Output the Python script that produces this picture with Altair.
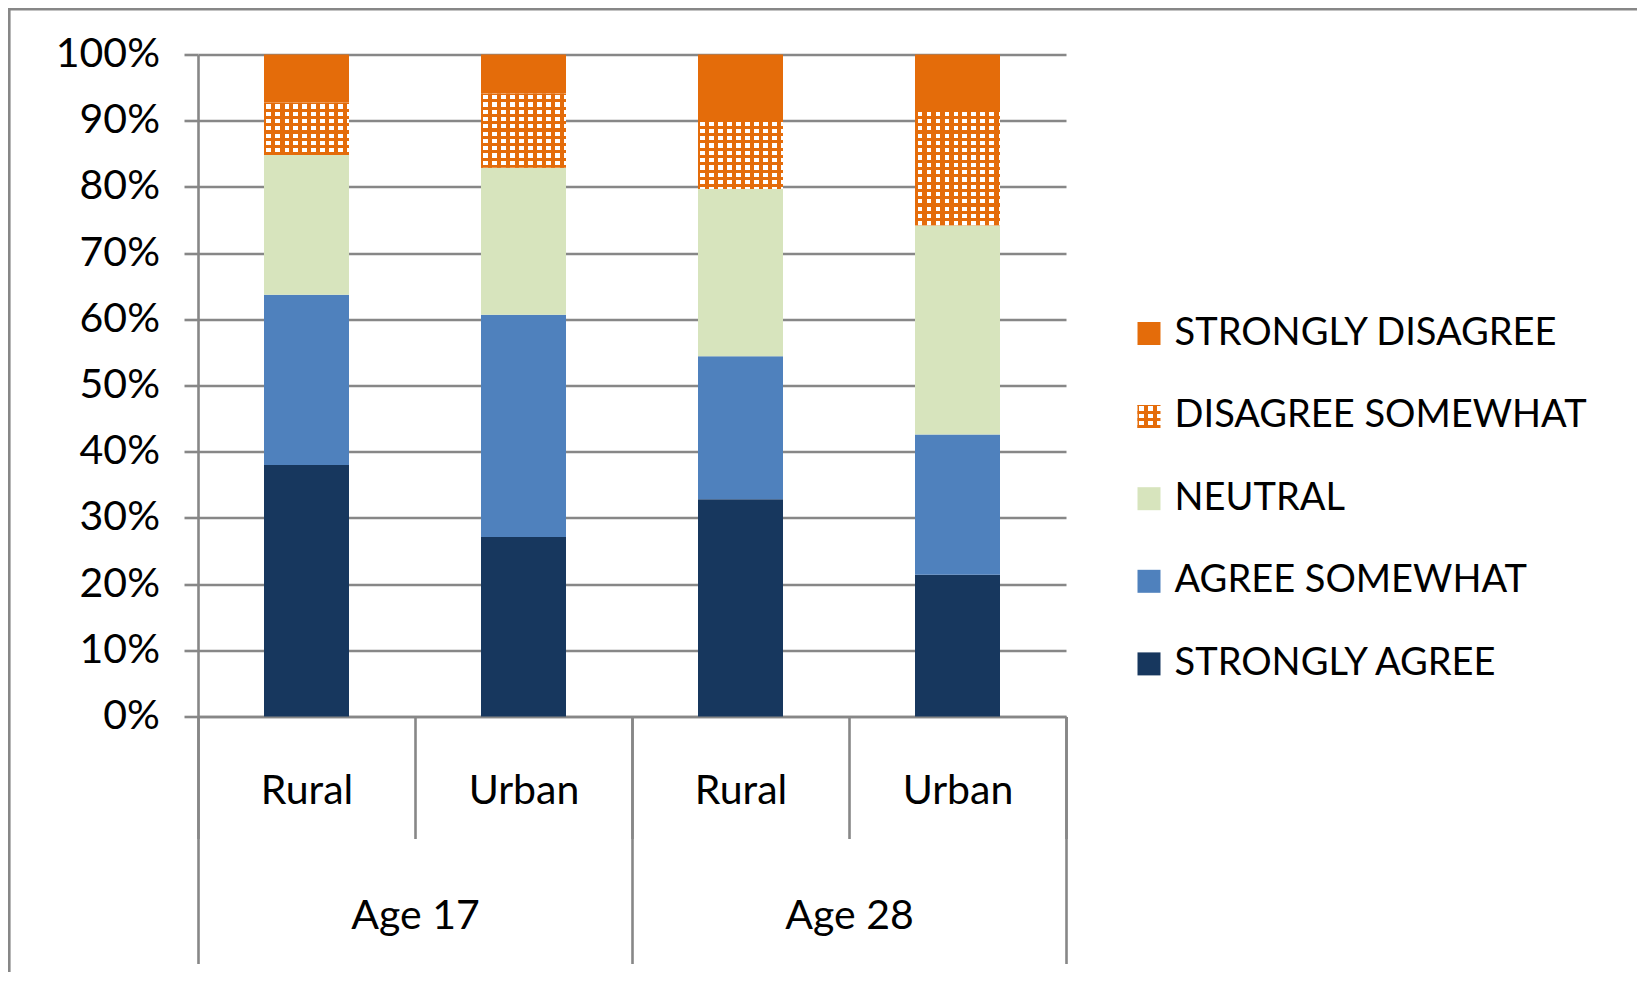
import altair as alt
import pandas as pd

# ---------------- data ----------------
groups = ["Age 17", "Age 17", "Age 28", "Age 28"]
areas = ["Rural", "Urban", "Rural", "Urban"]
categories = ["STRONGLY DISAGREE", "DISAGREE SOMEWHAT", "NEUTRAL", "AGREE SOMEWHAT", "STRONGLY AGREE"]
strongly_agree = [38.0, 27.1, 32.8, 21.4]
agree_somewhat = [25.7, 33.6, 21.6, 21.2]
neutral = [21.1, 22.2, 25.3, 31.6]
disagree_somewhat = [7.9, 11.2, 10.4, 17.4]
strongly_disagree = [7.3, 5.9, 9.9, 8.4]
y_ticks = [0.0, 0.1, 0.2, 0.3, 0.4, 0.5, 0.6, 0.7, 0.8, 0.9, 1.0]
group_labels = ["Age 17", "Age 28"]

# ---------------- styles ----------------
ORANGE = "#E46C0A"
CLEAR = "rgba(228,108,10,0)"
# the patterned series is transparent here and textured by overlay layers
colors = [ORANGE, "rgba(255,255,255,0)", "#D7E4BD", "#4F81BD", "#17375E"]
GRID = "#878787"
LW = 2.6
FONT = "Lato"
FS_AX = 41
FS_LEG = 38
W, H = 868, 662
BAR_FRAC = 85 / 217
PER_X, PER_Y, SQ_X, SQ_Y = 9, 7.3, 4.8, 4.2

bars = [g + "|" + a for g, a in zip(groups, areas)]
series = {
    "STRONGLY AGREE": strongly_agree,
    "AGREE SOMEWHAT": agree_somewhat,
    "NEUTRAL": neutral,
    "DISAGREE SOMEWHAT": disagree_somewhat,
    "STRONGLY DISAGREE": strongly_disagree,
}
stack_order = ["STRONGLY AGREE", "AGREE SOMEWHAT", "NEUTRAL", "DISAGREE SOMEWHAT", "STRONGLY DISAGREE"]
rows = []
for i, b in enumerate(bars):
    for k, cat in enumerate(stack_order):
        rows.append({"bar": b, "group": groups[i], "area": areas[i], "cat": cat,
                     "order": k, "value": series[cat][i] / 100})
df = pd.DataFrame(rows)
DS = "DISAGREE SOMEWHAT"


def stripes(length, period, white, phase, vertical):
    stops = [alt.GradientStop(offset=0, color=ORANGE)]
    pos = phase
    while pos < length:
        a = min(pos / length, 1.0)
        b = min((pos + white) / length, 1.0)
        stops += [alt.GradientStop(offset=a, color=ORANGE),
                  alt.GradientStop(offset=a, color=CLEAR),
                  alt.GradientStop(offset=b, color=CLEAR),
                  alt.GradientStop(offset=b, color=ORANGE)]
        pos += period
    stops.append(alt.GradientStop(offset=1, color=ORANGE))
    if vertical:
        return alt.LinearGradient(gradient="linear", stops=stops, x1=0, y1=0, x2=0, y2=1)
    return alt.LinearGradient(gradient="linear", stops=stops, x1=0, y1=0, x2=1, y2=0)


x_enc = alt.X(
    "bar:N", title=None,
    scale=alt.Scale(domain=bars, paddingInner=0, paddingOuter=0),
    axis=alt.Axis(
        orient="bottom", labelExpr="split(datum.label, '|')[1]", tickBand="extent",
        tickSize=122, tickColor=GRID, tickWidth=LW, domainColor=GRID, domainWidth=LW,
        labelFont=FONT, labelFontSize=FS_AX, labelColor="black", labelAngle=0,
        labelBaseline="alphabetic", labelPadding=-35.5, grid=False,
    ),
)
y_enc = alt.Y(
    "v0:Q", title=None,
    scale=alt.Scale(domain=[0, 1], nice=False),
    axis=alt.Axis(
        values=y_ticks, format=".0%", tickSize=14, tickColor=GRID, tickWidth=LW,
        domainColor=GRID, domainWidth=LW, grid=True, gridColor=GRID, gridWidth=LW,
        labelFont=FONT, labelFontSize=FS_AX, labelColor="black", labelPadding=24.5,
    ),
)

base = alt.Chart(df).transform_stack(
    stack="value", groupby=["bar"], as_=["v0", "v1"],
    sort=[alt.SortField("order", order="ascending")],
)

LEG_X, LEG_Y, ROWPAD = 932, 260, 44.6

bars_layer = base.mark_bar(width={"band": BAR_FRAC}).encode(
    x=x_enc, y=y_enc, y2="v1:Q",
    color=alt.Color(
        "cat:N", scale=alt.Scale(domain=categories, range=colors),
        legend=alt.Legend(
            title=None, orient="none", legendX=LEG_X, legendY=LEG_Y, symbolType="square",
            symbolSize=529, symbolStrokeWidth=0, labelFont=FONT, labelFontSize=FS_LEG,
            labelColor="black", labelLimit=0, rowPadding=ROWPAD, labelOffset=6.6, padding=0,
        ),
    ),
)

ds = base.transform_filter(alt.datum.cat == DS)
white_layer = ds.mark_bar(width={"band": BAR_FRAC}, fill="white").encode(x=x_enc, y=y_enc, y2="v1:Q")
col_layer = ds.mark_bar(width={"band": BAR_FRAC},
                        fill=stripes(85, PER_X, SQ_X, 2.5, False)).encode(x=x_enc, y=y_enc, y2="v1:Q")
row_layers = []
for i, b in enumerate(bars):
    h = disagree_somewhat[i] / 100 * H
    row_layers.append(
        ds.transform_filter(alt.datum.bar == b)
        .mark_bar(width={"band": BAR_FRAC}, fill=stripes(h, PER_Y, SQ_Y, 1.5, True))
        .encode(x=x_enc, y=y_enc, y2="v1:Q")
    )

inner = alt.layer(bars_layer, white_layer, col_layer, *row_layers)

gdf = pd.DataFrame({"group": group_labels})
group_layer = alt.Chart(gdf).mark_rule(opacity=0).encode(
    x=alt.X(
        "group:N", title=None,
        scale=alt.Scale(domain=group_labels, paddingInner=0, paddingOuter=0),
        axis=alt.Axis(
            orient="bottom", domain=False, tickBand="extent", tickSize=247,
            tickColor=GRID, tickWidth=LW, labelFont=FONT, labelFontSize=FS_AX,
            labelColor="black", labelAngle=0, labelBaseline="alphabetic",
            labelPadding=-35, grid=False,
        ),
    )
)

# texture for the legend swatch of the patterned series (23 px square)
fdf = pd.DataFrame({"k": [0]})
sw_x, sw_y = LEG_X + 7.5, 350.5
legend_col = alt.Chart(fdf).mark_rect(fill=stripes(23, PER_X, SQ_X, 1.5, False)).encode(
    x=alt.value(sw_x), x2=alt.value(sw_x + 23), y=alt.value(sw_y), y2=alt.value(sw_y + 23)
)
legend_row = alt.Chart(fdf).mark_rect(fill=stripes(23, PER_Y, SQ_Y, 1.5, True)).encode(
    x=alt.value(sw_x), x2=alt.value(sw_x + 23), y=alt.value(sw_y), y2=alt.value(sw_y + 23)
)

# outer chart frame
frame_top = alt.Chart(fdf).mark_rule(color=GRID, strokeWidth=LW).encode(
    x=alt.value(-188.7), x2=alt.value(1500), y=alt.value(-45.2)
)
frame_left = alt.Chart(fdf).mark_rule(color=GRID, strokeWidth=LW).encode(
    x=alt.value(-188.7), y=alt.value(-46.5), y2=alt.value(1000)
)

chart = alt.layer(inner, group_layer, legend_col, legend_row, frame_top, frame_left).resolve_scale(
    x="independent"
).properties(
    width=W, height=H,
    padding={"left": 190, "top": 46.5, "right": 571, "bottom": 255},
    autosize=alt.AutoSizeParams(type="none"),
).configure_view(strokeWidth=0)

chart.save("out.html", embed_options={"renderer": "svg", "actions": False})
